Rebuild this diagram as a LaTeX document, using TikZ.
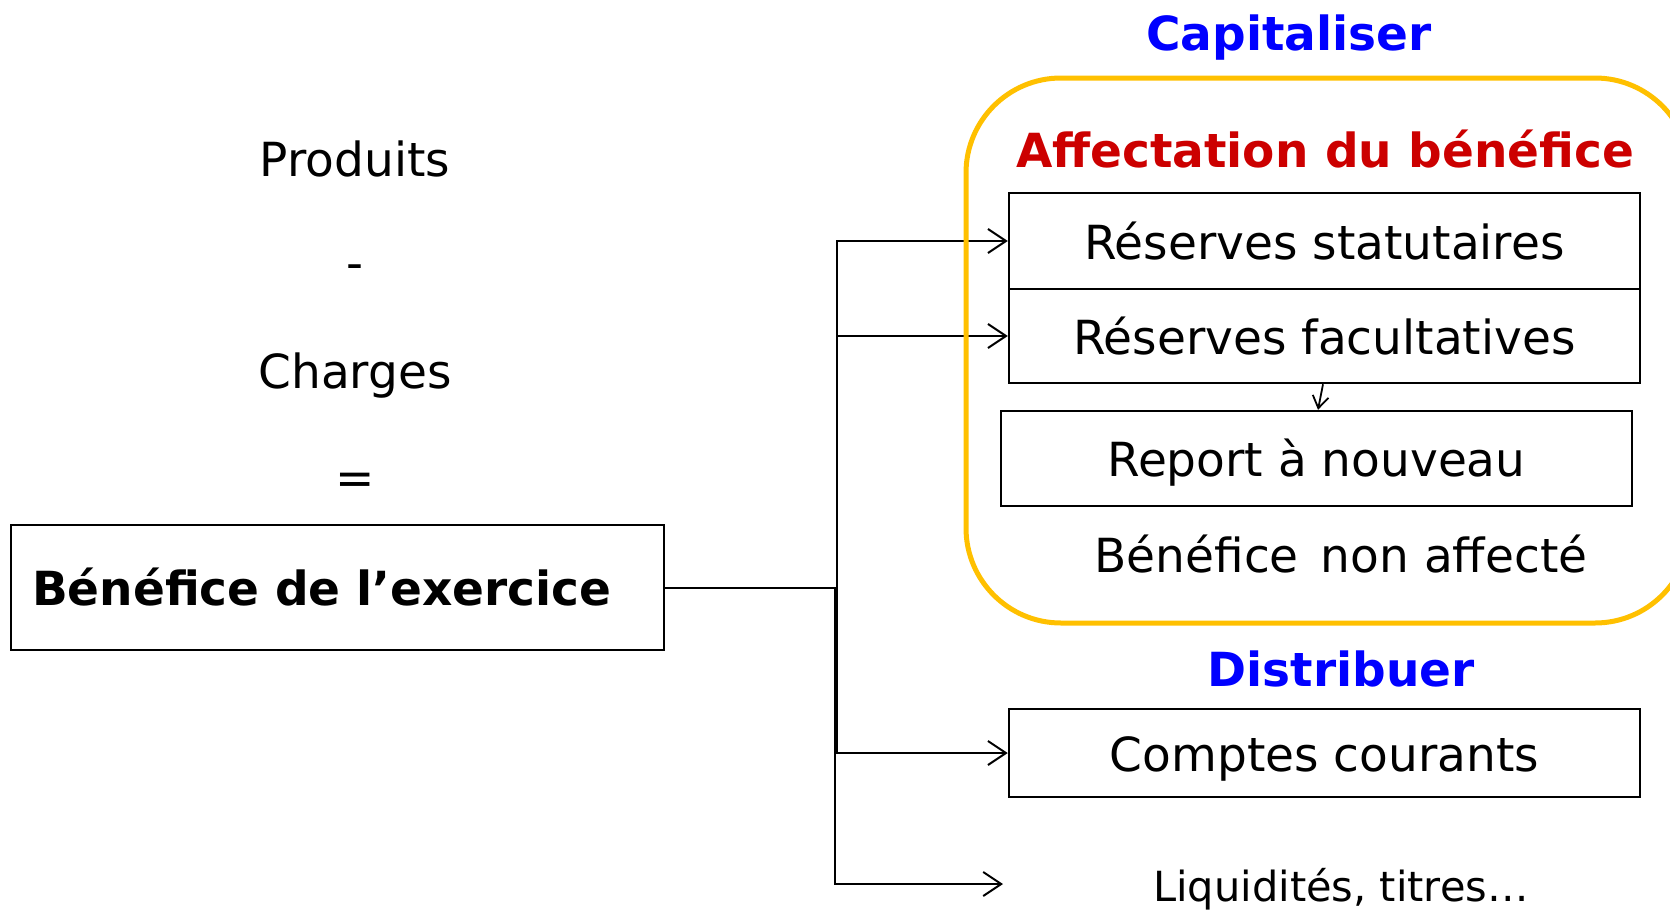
\documentclass[tikz,border=0pt]{standalone}
\usepackage{fontspec}
\setmainfont{DejaVu Sans}
\usetikzlibrary{arrows.meta}
\definecolor{capblue}{RGB}{0,0,255}
\definecolor{affred}{RGB}{204,0,0}
\definecolor{frameyellow}{RGB}{255,192,0}
\begin{document}
\begin{tikzpicture}[x=1pt,y=-1pt,
  every node/.style={font=\fontsize{47}{56}\selectfont, inner sep=0pt, text height=40pt, text depth=4pt},
  boxnode/.style={draw, line width=2.5pt, minimum width=631pt},
  titleblue/.style={text=capblue, font=\fontsize{47}{56}\selectfont\bfseries},
  conn/.style={line width=2pt, -{Straight Barb[length=18pt,width=24pt,line width=2pt]}},
  connsmall/.style={line width=1.8pt, -{Straight Barb[length=12pt,width=16pt,line width=1.8pt]}}
]
\useasboundingbox (0,0) rectangle (1670,910);

% left column
\node (produits) at (355,158) {Produits};
\node (minus) at (355,261) {-};
\node (charges) at (355,370) {Charges};
\node (equals) at (355,476) {=};
\node (benef) [draw, line width=2.5pt, minimum height=125pt, text width=611pt, inner xsep=21pt, align=left]
  at (337.5,587.5) {\bfseries Bénéfice de l’exercice};

% titles
\node (capit) [titleblue] at (1289,32) {Capitaliser};
\node (affect) [text=affred, font=\fontsize{47}{56}\selectfont\bfseries] at (1325,149) {Affectation du bénéfice};
\node (distrib) [titleblue] at (1341,668) {Distribuer};

% boxes
\node (resstat) [boxnode, minimum height=96pt] at (1324.5,241) {Réserves statutaires};
\node (resfac) [boxnode, minimum height=94pt] at (1324.5,336) {Réserves facultatives};
\node (report) [boxnode, minimum height=95pt] at (1316.5,458.5) {Report à nouveau};
\node (nonaff) at (1341,554) {Bénéfice\hspace{0.15em} non affecté};
\node (comptes) [boxnode, minimum height=88pt] at (1324.5,753) {Comptes courants};
\node (liquid) [font=\fontsize{41.5}{50}\selectfont, text height=33pt, text depth=6pt] at (1341,888) {Liquidités, titres…};
\coordinate (liqend) at (1003,884);

% connectors
\draw[conn] (benef.east) -- ++(172,0) |- (resstat.west);
\draw[conn] (benef.east) -- ++(172,0) |- (resfac.west);
\draw[conn] (benef.east) -- ++(172,0) |- (comptes.west);
\draw[conn] (benef.east) -- ++(170,0) |- (liqend);
\draw[connsmall] ([xshift=-1.5pt]resfac.south) -- ([xshift=1.5pt]report.north);

% yellow frame
\node (frame) [draw=frameyellow, line width=5pt, rounded corners=95pt, minimum width=724pt, minimum height=545pt, text height=0pt, text depth=0pt]
  at (1328,350.5) {};
\end{tikzpicture}
\end{document}
